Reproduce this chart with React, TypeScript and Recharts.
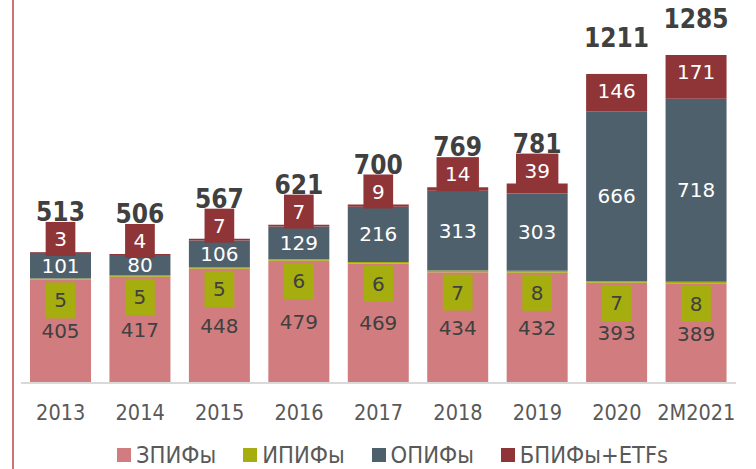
import React from "react"
import { BarChart, Bar, XAxis, YAxis, LabelList } from "recharts"

const categories = ["2013", "2014", "2015", "2016", "2017", "2018", "2019", "2020", "2M2021"]
const zpif = [405, 417, 448, 479, 469, 434, 432, 393, 389]
const ipif = [5, 5, 5, 6, 6, 7, 8, 7, 8]
const opif = [101, 80, 106, 129, 216, 313, 303, 666, 718]
const bpif = [3, 4, 7, 7, 9, 14, 39, 146, 171]
const totals = [513, 506, 567, 621, 700, 769, 781, 1211, 1285]

const COLORS = {
  zpif: "#d17d7f",
  ipif: "#a6ad0f",
  opif: "#4f606d",
  bpif: "#8f3538",
}

const LABEL_FONT = "'DejaVu Sans', sans-serif"
const COND_FONT = "'DejaVu Sans Condensed', 'DejaVu Sans', sans-serif"

const data = categories.map((name, i) => ({
  name,
  zpif: zpif[i],
  ipif: ipif[i],
  opif: opif[i],
  bpif: bpif[i],
  total: totals[i],
}))

const legendItems = [
  { label: "ЗПИФы", color: COLORS.zpif },
  { label: "ИПИФы", color: COLORS.ipif },
  { label: "ОПИФы", color: COLORS.opif },
  { label: "БПИФы+ETFs", color: COLORS.bpif },
]

// box label for the thin "ИПИФы" segment, sits just under its top
function IpifLabel(props: any) {
  const { x, y, width, value } = props
  const cx = x + width / 2
  const cy = y + 22
  const w = String(value).length * 12.7 + 17
  return (
    <g>
      <rect x={cx - w / 2} y={cy - 18} width={w} height={36} fill={COLORS.ipif} />
      <text x={cx} y={cy} textAnchor="middle" dominantBaseline="central" fontSize={20} fontFamily={LABEL_FONT} fill="#404040">
        {value}
      </text>
    </g>
  )
}

// box label for "БПИФы+ETFs": above the bar when the segment is thin
function BpifLabel(props: any) {
  const { x, y, width, height, value } = props
  const cx = x + width / 2
  const cy = height > 20 ? y + 17 : y - 13
  const w = String(value).length * 12.7 + 17
  return (
    <g>
      <rect x={cx - w / 2} y={cy - 17} width={w} height={34} fill={COLORS.bpif} />
      <text x={cx} y={cy} textAnchor="middle" dominantBaseline="central" fontSize={20} fontFamily={LABEL_FONT} fill="#ffffff">
        {value}
      </text>
    </g>
  )
}

function TotalLabel(props: any) {
  const { x, y, width, height, value } = props
  const top = height > 20 ? y - 27 : y - 31
  return (
    <text x={x + width / 2} y={top} textAnchor="middle" fontSize={26} fontWeight="bold" fontFamily={COND_FONT} fill="#404040">
      {value}
    </text>
  )
}

function YearTick(props: any) {
  const { x, y, payload } = props
  return (
    <text x={x} y={y + 37} textAnchor="middle" fontSize={21.5} fontFamily={COND_FONT} fill="#595959">
      {payload.value}
    </text>
  )
}

export default function App() {
  return (
    <div style={{ position: "absolute", left: 0, top: 0, width: 756, height: 469, background: "#fff", overflow: "hidden" }}>
      <div style={{ position: "absolute", left: 12, top: 0, width: 2, height: 469, background: "#cd7476" }} />
      <BarChart width={756} height={469} data={data} margin={{ top: 26, right: 20, bottom: 0, left: 21 }}>
        <YAxis hide domain={[0, 1400]} />
        <XAxis
          dataKey="name"
          height={86}
          tickLine={false}
          tickSize={0}
          tickMargin={0}
          axisLine={{ stroke: "#d9d9d9", strokeWidth: 2 }}
          tick={<YearTick />}
          interval={0}
        />
        <Bar dataKey="zpif" stackId="a" fill={COLORS.zpif} barSize={61} isAnimationActive={false}>
          <LabelList dataKey="zpif" position="center" fontSize={20} fontFamily={LABEL_FONT} fill="#404040" />
        </Bar>
        <Bar dataKey="ipif" stackId="a" fill={COLORS.ipif} barSize={61} isAnimationActive={false}>
          <LabelList dataKey="ipif" content={<IpifLabel />} />
        </Bar>
        <Bar dataKey="opif" stackId="a" fill={COLORS.opif} barSize={61} isAnimationActive={false}>
          <LabelList dataKey="opif" position="center" fontSize={20} fontFamily={LABEL_FONT} fill="#ffffff" />
        </Bar>
        <Bar dataKey="bpif" stackId="a" fill={COLORS.bpif} barSize={61} isAnimationActive={false}>
          <LabelList dataKey="bpif" content={<BpifLabel />} />
          <LabelList dataKey="total" content={<TotalLabel />} />
        </Bar>
      </BarChart>
      <div style={{ position: "absolute", left: 117, top: 444, display: "flex", alignItems: "center", gap: 27, fontFamily: COND_FONT, fontSize: 23.5, lineHeight: "22px", color: "#595959" }}>
        {legendItems.map((item) => (
          <div key={item.label} style={{ display: "flex", alignItems: "center", gap: 5 }}>
            <span style={{ width: 14, height: 14, background: item.color, display: "inline-block" }} />
            <span>{item.label}</span>
          </div>
        ))}
      </div>
    </div>
  )
}
